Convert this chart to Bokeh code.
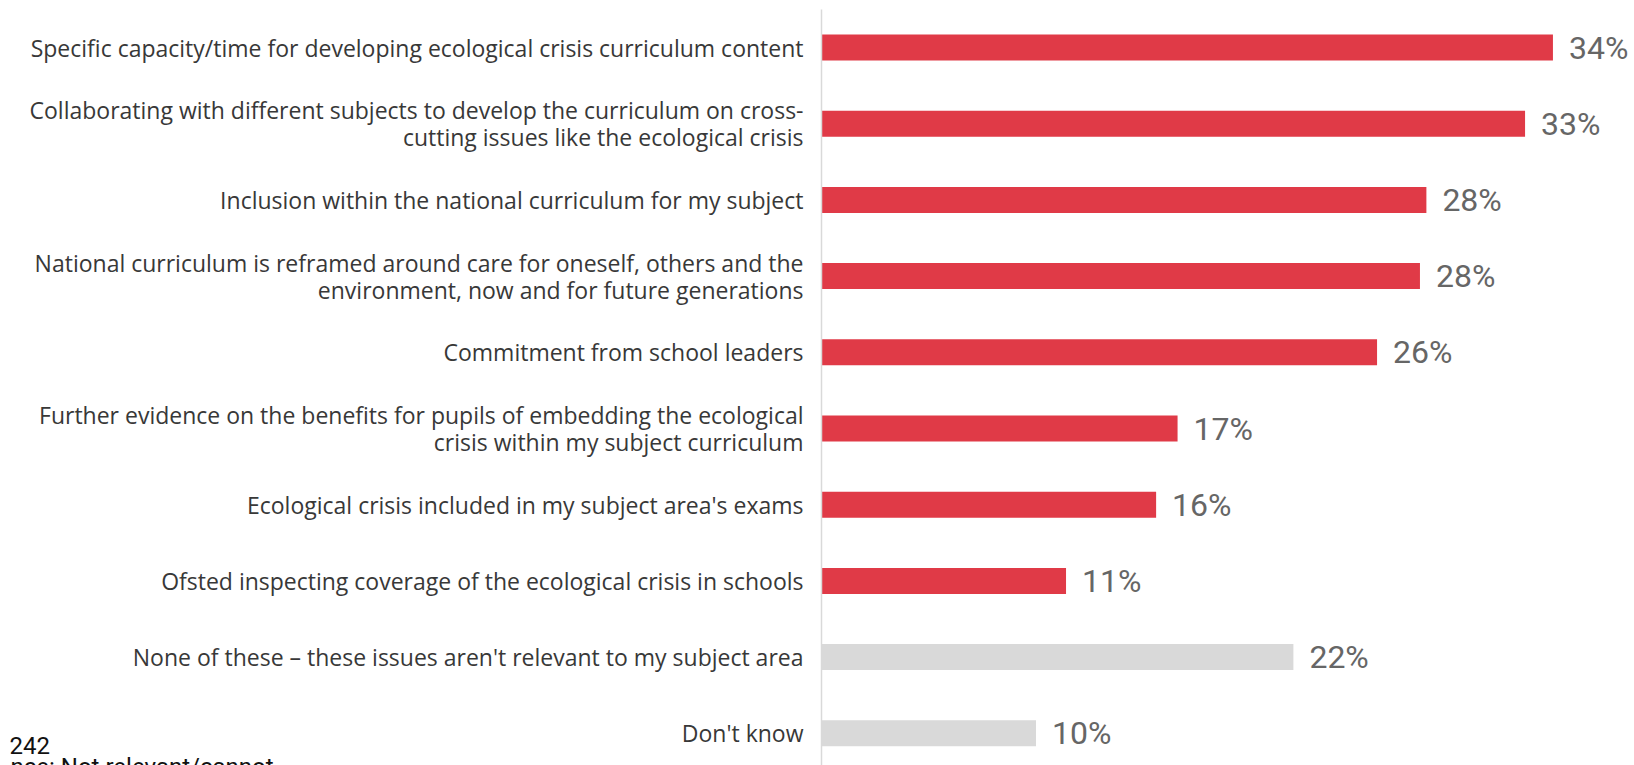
from bokeh.plotting import figure
from bokeh.models import ColumnDataSource, Range1d, Label
from bokeh.core.properties import value
from bokeh.embed import file_html
from bokeh.resources import INLINE

categories = [
    "Specific capacity/time for developing ecological crisis curriculum content",
    "Collaborating with different subjects to develop the curriculum on cross-\ncutting issues like the ecological crisis",
    "Inclusion within the national curriculum for my subject",
    "National curriculum is reframed around care for oneself, others and the\nenvironment, now and for future generations",
    "Commitment from school leaders",
    "Further evidence on the benefits for pupils of embedding the ecological\ncrisis within my subject curriculum",
    "Ecological crisis included in my subject area's exams",
    "Ofsted inspecting coverage of the ecological crisis in schools",
    "None of these \u2013 these issues aren't relevant to my subject area",
    "Don't know",
]
values = [34.1, 32.8, 28.2, 27.9, 25.9, 16.6, 15.6, 11.4, 22.0, 10.0]
labels = ["34%", "33%", "28%", "28%", "26%", "17%", "16%", "11%", "22%", "10%"]
kinds = ["main"] * 8 + ["other"] * 2
base_note = "242"
base_note_2 = "nce: Not relevant/cannot"

colors = ["#e03a47" if k == "main" else "#d9d9d9" for k in kinds]
idx = list(range(len(categories)))

src = ColumnDataSource(dict(y=idx, v=values, cat=categories, lab=labels, color=colors, zero=[0] * len(idx)))

W, H = 1634, 765
px_per = 21.45
x0 = 821
row = 76.2
c0 = 47

p = figure(width=W, height=H, output_backend="svg", toolbar_location=None,
           x_range=Range1d(-x0 / px_per, (W - x0) / px_per),
           y_range=Range1d((H - c0) / row, -c0 / row),
           min_border=0, outline_line_color=None)
p.axis.visible = False
p.grid.visible = False

p.hbar(y="y", left="zero", right="v", height=26 / row, color="color", source=src, line_color=None)

p.segment(x0=[0], y0=[-0.5], x1=[0], y1=[(H - c0) / row + 0.1], line_color="#d9d9d9", line_width=1.5)

p.text(x="zero", y="y", text="cat", source=src, x_offset=-18, text_align="right", text_baseline="middle",
       text_font=value("Open Sans"), text_font_size="23px", text_color="#383838", text_line_height=0.84)

p.text(x="v", y="y", text="lab", source=src, x_offset=16, text_align="left", text_baseline="middle",
       text_font=value("Roboto"), text_font_size="32px", text_color="#666666")

p.add_layout(Label(x=9, y=20, x_units="screen", y_units="screen", text=base_note,
                   text_font="Roboto", text_font_size="24px", text_color="#111111",
                   text_baseline="alphabetic"))
p.add_layout(Label(x=10, y=13, x_units="screen", y_units="screen", text=base_note_2,
                   text_font="Roboto", text_font_size="24px", text_color="#111111",
                   text_baseline="top"))

open("out.html", "w").write(file_html(p, INLINE))
